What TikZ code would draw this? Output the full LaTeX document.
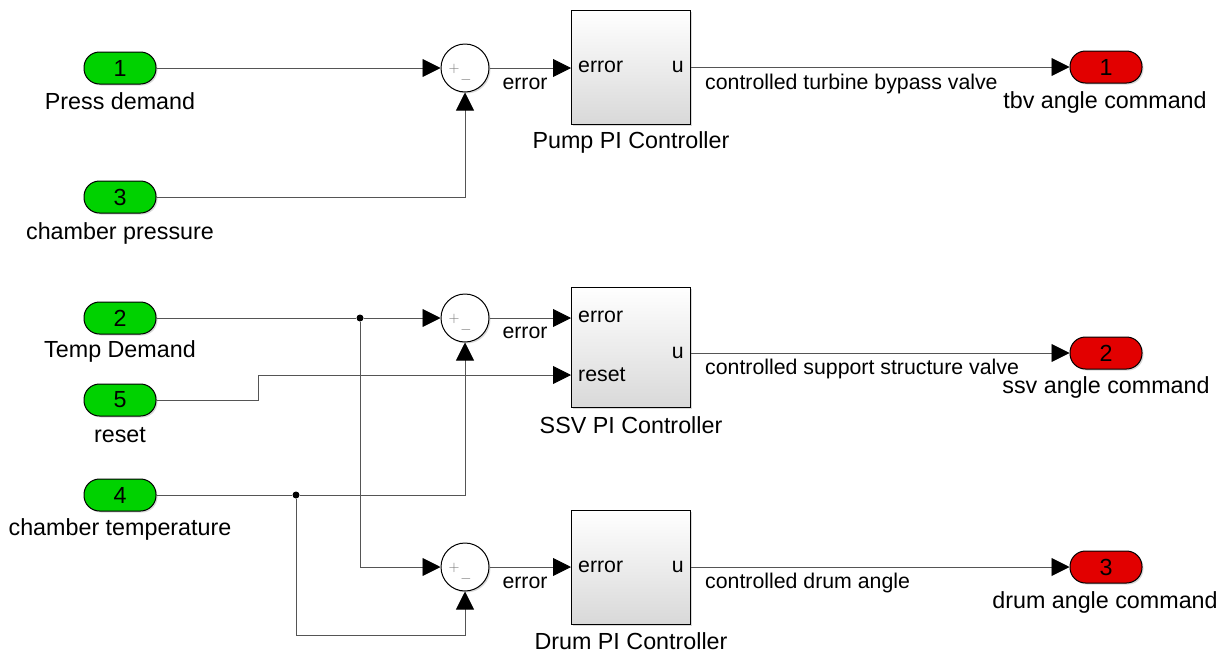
\documentclass[tikz,border=0pt]{standalone}
\usepackage{fontspec}
\setmainfont{Liberation Sans}
\usetikzlibrary{arrows.meta,shadows}
\definecolor{ingreen}{RGB}{0,210,0}
\definecolor{outred}{RGB}{226,0,0}
\definecolor{wirecol}{RGB}{85,85,85}
\begin{document}
\begin{tikzpicture}[x=1pt,y=-1pt,font=\fontsize{23.3}{27}\selectfont]
                    \tikzset{
                        port/.style={draw, rounded corners=15.5pt, minimum width=72pt, minimum height=32pt, inner sep=0pt, line width=1pt, drop shadow={opacity=0.3, shadow xshift=1.5pt, shadow yshift=-1.5pt}},
                        inport/.style={port, fill=ingreen},
                        outport/.style={port, fill=outred},
                        sumblk/.style={draw, circle, fill=white, minimum size=48pt, inner sep=0pt, line width=1pt, drop shadow={opacity=0.3, shadow xshift=1.5pt, shadow yshift=-1.5pt}},
                        ctrl/.style={draw, rectangle, minimum width=119pt, inner sep=0pt, line width=1pt, top color=white, bottom color=black!15, drop shadow={opacity=0.3, shadow xshift=1.5pt, shadow yshift=-1.5pt}},
                        sign/.style={text=black!55, font=\fontsize{15}{15}\selectfont, inner sep=0pt},
                        txt/.style={inner sep=0pt},
                        sig/.style={inner sep=0pt, font=\fontsize{21.3}{25}\selectfont},
                        wire/.style={draw=wirecol, line width=0.9pt},
                        arc/.style={wire, -{Triangle[length=18pt,width=18pt,color=black]}},
                        junc/.style={circle, fill=black, inner sep=0pt, minimum size=7pt}
                    }
                    % input ports
                    \draw node[inport] (in1) at (120,68) {1};
                    \draw node[inport] (in3) at (120,197) {3};
                    \draw node[inport] (in2) at (120,318) {2};
                    \draw node[inport] (in5) at (120,400) {5};
                    \draw node[inport] (in4) at (120,495) {4};
                    \draw node[txt] (in1lbl) at (120,101) {Press demand};
                    \draw node[txt] (in3lbl) at (120,233) {chamber pressure};
                    \draw node[txt] (in2lbl) at (120,351) {Temp Demand};
                    \draw node[txt] (in5lbl) at (120,435) {reset};
                    \draw node[txt] (in4lbl) at (120,529) {chamber temperature};
                    % sums
                    \draw node[sumblk] (sum1) at (465,68) {};
                    \draw node[sumblk] (sum2) at (465,318) {};
                    \draw node[sumblk] (sum3) at (465,567) {};
                    \foreach \s in {sum1,sum2,sum3}{
                        \node[sign] (\s-p) at ([shift={(-11,1)}]\s.center) {$+$};
                        \node[sign] (\s-m) at ([shift={(1,12)}]\s.center) {$-$};
                    }
                    % controllers
                    \draw node[ctrl, minimum height=114pt] (pump) at (631,67) {};
                    \draw node[ctrl, minimum height=120pt] (ssv) at (631,347) {};
                    \draw node[ctrl, minimum height=114pt] (drum) at (631,567) {};
                    \draw node[sig, anchor=west] (pumpe) at (578,67) {error};
                    \draw node[sig, anchor=east] (pumpu) at (684,67) {u};
                    \draw node[sig, anchor=west] (ssve) at (578,317) {error};
                    \draw node[sig, anchor=west] (ssvr) at (578,375) {reset};
                    \draw node[sig, anchor=east] (ssvu) at (684,353) {u};
                    \draw node[sig, anchor=west] (drume) at (578,567) {error};
                    \draw node[sig, anchor=east] (drumu) at (684,567) {u};
                    \draw node[txt] (pumplbl) at (631,142) {Pump PI Controller};
                    \draw node[txt] (ssvlbl) at (631,425) {SSV PI Controller};
                    \draw node[txt] (drumlbl) at (631,641) {Drum PI Controller};
                    % output ports
                    \draw node[outport] (out1) at (1106,67) {1};
                    \draw node[outport] (out2) at (1106,353) {2};
                    \draw node[outport] (out3) at (1106,567) {3};
                    \draw node[txt] (out1lbl) at (1105,102) {tbv angle command};
                    \draw node[txt] (out2lbl) at (1106,387) {ssv angle command};
                    \draw node[txt] (out3lbl) at (1105,602) {drum angle command};
                    % branch points
                    \draw node[junc] (j2) at (360,318) {};
                    \draw node[junc] (j4) at (296,495) {};
                    \coordinate (r1) at (258,400);
                    \coordinate (r2) at (258,375);
                    \coordinate (b4) at (296,635);
                    % wires
                    \draw[arc] (in1.east) -- (sum1.west);
                    \draw[arc] (in3.east) -| (sum1.south);
                    \draw[wire] (in2.east) -- (j2);
                    \draw[arc] (j2) -- (sum2.west);
                    \draw[arc] (j2) |- (sum3.west);
                    \draw[wire] (in4.east) -- (j4);
                    \draw[arc] (j4) -| (sum2.south);
                    \draw[arc] (j4) -- (b4) -| (sum3.south);
                    \draw[arc] (in5.east) -- (r1) -- (r2) -- (ssv.west |- r2);
                    \draw[arc] (sum1.east) -- (pump.west |- sum1);
                    \draw[arc] (sum2.east) -- (ssv.west |- sum2);
                    \draw[arc] (sum3.east) -- (drum.west |- sum3);
                    \draw[arc] (pump.east |- out1) -- (out1.west);
                    \draw[arc] (ssv.east |- out2) -- (out2.west);
                    \draw[arc] (drum.east |- out3) -- (out3.west);
                    % signal names
                    \draw node[sig] (e1) at (525,84) {error};
                    \draw node[sig] (e2) at (525,333) {error};
                    \draw node[sig] (e3) at (525,583) {error};
                    \draw node[sig, anchor=west] (s1) at (705,84) {controlled turbine bypass valve};
                    \draw node[sig, anchor=west] (s2) at (705,369) {controlled support structure valve};
                    \draw node[sig, anchor=west] (s3) at (705,583) {controlled drum angle};
                    \useasboundingbox (0,0) rectangle (1229,654);
\end{tikzpicture}
\end{document}
